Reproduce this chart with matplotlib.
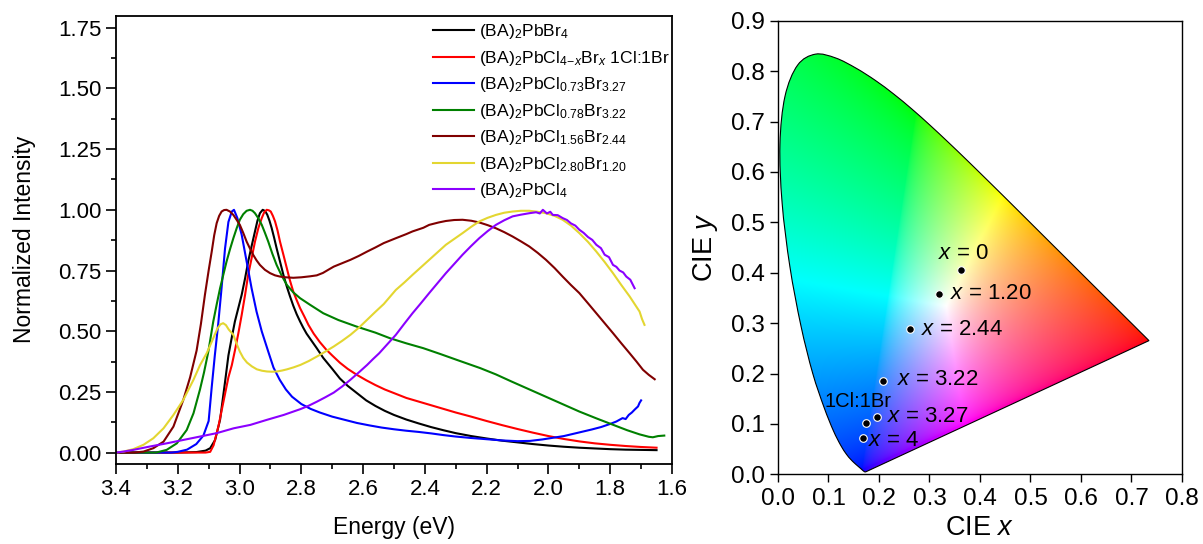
import numpy as np
import matplotlib
matplotlib.use("Agg")
import matplotlib.pyplot as plt
from matplotlib.path import Path
from matplotlib.patches import PathPatch
from matplotlib.ticker import MultipleLocator, FormatStrFormatter

plt.rcParams['font.family'] = ['Liberation Sans', 'DejaVu Sans']
plt.rcParams['mathtext.fontset'] = 'custom'
plt.rcParams['mathtext.rm'] = 'Liberation Sans'
plt.rcParams['mathtext.it'] = 'Liberation Sans:italic'
plt.rcParams['mathtext.bf'] = 'Liberation Sans:bold'

# ---------------- PL spectra (energy in eV, normalized intensity) ----------------
E_br4 = [3.40, 3.20, 3.14, 3.11, 3.095, 3.079, 3.063, 3.046, 3.036, 3.025, 3.015, 3.004,
         2.993, 2.982, 2.972, 2.961, 2.950, 2.942, 2.934, 2.925, 2.917, 2.910, 2.903, 2.896,
         2.888, 2.880, 2.869, 2.858, 2.847, 2.837, 2.826, 2.815, 2.804, 2.794, 2.783, 2.772,
         2.750, 2.729, 2.700, 2.675, 2.650, 2.620, 2.590, 2.560, 2.530, 2.500, 2.460, 2.420,
         2.380, 2.340, 2.300, 2.250, 2.200, 2.150, 2.100, 2.050, 2.000, 1.950, 1.900, 1.850,
         1.800, 1.750, 1.700, 1.650]
I_br4 = [0.0, 0.0, 0.002, 0.008, 0.018, 0.052, 0.135, 0.30, 0.40, 0.475, 0.54, 0.595,
         0.65, 0.718, 0.787, 0.85, 0.911, 0.955, 0.986, 1.0, 0.995, 0.979, 0.955, 0.925,
         0.885, 0.842, 0.787, 0.732, 0.684, 0.645, 0.605, 0.57, 0.54, 0.515, 0.49, 0.47,
         0.43, 0.39, 0.345, 0.305, 0.275, 0.245, 0.215, 0.192, 0.172, 0.155, 0.136, 0.12,
         0.105, 0.092, 0.08, 0.068, 0.058, 0.049, 0.042, 0.035, 0.029, 0.024, 0.02, 0.017,
         0.014, 0.012, 0.011, 0.01]

E_1to1 = [3.40, 3.20, 3.11, 3.095, 3.084, 3.068, 3.052, 3.036, 3.025, 3.015, 3.004, 2.993,
          2.982, 2.972, 2.961, 2.950, 2.939, 2.928, 2.920, 2.912, 2.905, 2.899, 2.892, 2.885,
          2.877, 2.869, 2.858, 2.847, 2.837, 2.826, 2.815, 2.804, 2.790, 2.777, 2.760, 2.740,
          2.720, 2.700, 2.675, 2.650, 2.620, 2.590, 2.560, 2.530, 2.500, 2.460, 2.420, 2.380,
          2.340, 2.300, 2.250, 2.200, 2.150, 2.100, 2.050, 2.000, 1.950, 1.900, 1.850, 1.800,
          1.750, 1.700, 1.650]
I_1to1 = [0.0, 0.0, 0.0, 0.003, 0.03, 0.11, 0.21, 0.31, 0.36, 0.42, 0.49, 0.567,
          0.65, 0.732, 0.80, 0.869, 0.925, 0.966, 0.99, 1.0, 0.998, 0.993, 0.975, 0.952,
          0.915, 0.869, 0.815, 0.76, 0.71, 0.663, 0.628, 0.595, 0.56, 0.526, 0.49, 0.455,
          0.425, 0.40, 0.37, 0.345, 0.32, 0.298, 0.278, 0.26, 0.245, 0.225, 0.21, 0.195,
          0.18, 0.165, 0.148, 0.13, 0.113, 0.097, 0.082, 0.068, 0.056, 0.046, 0.038, 0.032,
          0.027, 0.023, 0.02]

E_327 = [3.40, 3.22, 3.20, 3.17, 3.14, 3.117, 3.10, 3.09, 3.08, 3.069, 3.058, 3.047, 3.036,
         3.025, 3.018, 3.007, 2.993, 2.977, 2.961, 2.945, 2.928, 2.907, 2.89, 2.87, 2.85,
         2.83, 2.80, 2.77, 2.74, 2.70, 2.66, 2.62, 2.58, 2.54, 2.50, 2.46, 2.42, 2.38, 2.34,
         2.30, 2.25, 2.20, 2.15, 2.10, 2.06, 2.02, 1.98, 1.95, 1.92, 1.89, 1.86, 1.83, 1.80,
         1.78, 1.76, 1.75, 1.74, 1.73, 1.72, 1.71, 1.705, 1.70]
I_327 = [0.0, 0.0, 0.003, 0.012, 0.035, 0.07, 0.13, 0.27, 0.40, 0.53, 0.68, 0.84, 0.95,
         0.993, 1.0, 0.966, 0.897, 0.787, 0.677, 0.581, 0.499, 0.416, 0.35, 0.30, 0.26,
         0.23, 0.20, 0.18, 0.165, 0.148, 0.135, 0.122, 0.112, 0.103, 0.096, 0.09, 0.085,
         0.079, 0.072, 0.066, 0.06, 0.055, 0.05, 0.047, 0.048, 0.054, 0.062, 0.068, 0.077,
         0.086, 0.095, 0.105, 0.118, 0.128, 0.142, 0.138, 0.155, 0.165, 0.178, 0.19, 0.205,
         0.215]

E_322 = [3.40, 3.27, 3.236, 3.203, 3.171, 3.149, 3.128, 3.115, 3.101, 3.085, 3.074, 3.063,
         3.052, 3.042, 3.031, 3.020, 3.009, 2.999, 2.988, 2.977, 2.966, 2.958, 2.950, 2.939,
         2.928, 2.918, 2.907, 2.894, 2.880, 2.864, 2.847, 2.826, 2.804, 2.772, 2.729, 2.680,
         2.621, 2.560, 2.513, 2.460, 2.405, 2.350, 2.297, 2.221, 2.170, 2.120, 2.065, 2.010,
         1.955, 1.900, 1.845, 1.790, 1.745, 1.705, 1.675, 1.662, 1.645, 1.625]
I_322 = [0.0, 0.0, 0.011, 0.038, 0.093, 0.162, 0.26, 0.33, 0.416, 0.54, 0.61, 0.677,
         0.735, 0.787, 0.837, 0.883, 0.925, 0.959, 0.982, 0.996, 1.0, 0.996, 0.986, 0.965,
         0.938, 0.906, 0.869, 0.82, 0.773, 0.73, 0.691, 0.66, 0.636, 0.609, 0.574, 0.546,
         0.519, 0.494, 0.471, 0.45, 0.43, 0.406, 0.382, 0.348, 0.322, 0.293, 0.262, 0.231,
         0.20, 0.169, 0.141, 0.114, 0.092, 0.075, 0.065, 0.063, 0.068, 0.07]

E_244 = [3.40, 3.34, 3.311, 3.279, 3.246, 3.214, 3.182, 3.160, 3.139, 3.125, 3.112, 3.100,
         3.090, 3.082, 3.074, 3.066, 3.058, 3.050, 3.042, 3.031, 3.020, 3.010, 2.999, 2.988,
         2.977, 2.966, 2.956, 2.945, 2.934, 2.918, 2.901, 2.885, 2.869, 2.850, 2.826, 2.800,
         2.772, 2.750, 2.730, 2.710, 2.695, 2.668, 2.641, 2.614, 2.587, 2.560, 2.533, 2.494,
         2.460, 2.440, 2.405, 2.386, 2.355, 2.332, 2.305, 2.278, 2.250, 2.224, 2.197, 2.170,
         2.143, 2.116, 2.089, 2.062, 2.035, 2.008, 1.980, 1.954, 1.927, 1.900, 1.872, 1.845,
         1.818, 1.791, 1.764, 1.737, 1.715, 1.694, 1.675, 1.656]
I_244 = [0.0, 0.0, 0.004, 0.018, 0.045, 0.107, 0.217, 0.31, 0.42, 0.53, 0.65, 0.75,
         0.828, 0.895, 0.945, 0.975, 0.993, 0.999, 1.0, 0.993, 0.979, 0.96, 0.938, 0.905,
         0.869, 0.84, 0.815, 0.792, 0.773, 0.753, 0.739, 0.73, 0.725, 0.722, 0.72, 0.722,
         0.726, 0.73, 0.74, 0.755, 0.766, 0.78, 0.794, 0.81, 0.828, 0.845, 0.863, 0.883,
         0.90, 0.911, 0.926, 0.938, 0.948, 0.954, 0.958, 0.959, 0.955, 0.948, 0.937, 0.924,
         0.908, 0.89, 0.87, 0.849, 0.823, 0.794, 0.76, 0.725, 0.69, 0.657, 0.615, 0.574,
         0.533, 0.492, 0.45, 0.409, 0.375, 0.341, 0.32, 0.302]

E_120 = [3.40, 3.376, 3.344, 3.311, 3.279, 3.246, 3.214, 3.182, 3.149, 3.128, 3.106, 3.085,
         3.072, 3.062, 3.053, 3.044, 3.035, 3.020, 3.010, 2.999, 2.988, 2.976, 2.960, 2.944,
         2.927, 2.911, 2.895, 2.879, 2.862, 2.846, 2.825, 2.803, 2.776, 2.749, 2.722, 2.695,
         2.668, 2.641, 2.614, 2.587, 2.560, 2.533, 2.494, 2.467, 2.440, 2.413, 2.386, 2.359,
         2.332, 2.305, 2.278, 2.250, 2.224, 2.197, 2.170, 2.143, 2.116, 2.089, 2.062, 2.035,
         2.008, 1.980, 1.954, 1.927, 1.900, 1.872, 1.845, 1.818, 1.791, 1.764, 1.737, 1.720,
         1.705, 1.697, 1.689]
I_120 = [0.0, 0.004, 0.014, 0.032, 0.059, 0.10, 0.155, 0.217, 0.30, 0.36, 0.41, 0.471,
         0.51, 0.528, 0.533, 0.525, 0.507, 0.485, 0.45, 0.416, 0.39, 0.371, 0.355, 0.343,
         0.337, 0.334, 0.333, 0.334, 0.338, 0.343, 0.351, 0.361, 0.377, 0.396, 0.416, 0.437,
         0.46, 0.485, 0.514, 0.547, 0.58, 0.612, 0.67, 0.70, 0.732, 0.763, 0.794, 0.825,
         0.856, 0.88, 0.904, 0.93, 0.952, 0.967, 0.979, 0.988, 0.993, 0.996, 0.996, 0.992,
         0.986, 0.975, 0.959, 0.935, 0.904, 0.868, 0.828, 0.785, 0.739, 0.69, 0.643, 0.61,
         0.581, 0.55, 0.526]

E_cl4 = [3.40, 3.376, 3.344, 3.290, 3.236, 3.182, 3.128, 3.074, 3.019, 2.965, 2.911, 2.857,
         2.803, 2.776, 2.749, 2.722, 2.695, 2.668, 2.641, 2.614, 2.587, 2.568, 2.548, 2.521,
         2.494, 2.467, 2.440, 2.413, 2.386, 2.359, 2.332, 2.305, 2.278, 2.251, 2.224, 2.197,
         2.170, 2.143, 2.116, 2.089, 2.062, 2.040, 2.028, 2.018, 2.005, 1.994, 1.986, 1.970,
         1.954, 1.940, 1.927, 1.913, 1.900, 1.886, 1.872, 1.858, 1.845, 1.830, 1.818, 1.804,
         1.791, 1.780, 1.770, 1.758, 1.748, 1.735, 1.721]
I_cl4 = [0.0, 0.004, 0.011, 0.025, 0.038, 0.052, 0.066, 0.08, 0.10, 0.114, 0.135, 0.155,
         0.179, 0.193, 0.21, 0.228, 0.247, 0.272, 0.30, 0.33, 0.361, 0.385, 0.409, 0.447,
         0.485, 0.53, 0.574, 0.615, 0.657, 0.698, 0.739, 0.777, 0.815, 0.85, 0.883, 0.912,
         0.938, 0.957, 0.973, 0.98, 0.986, 0.99, 0.985, 1.0, 0.985, 0.992, 0.979, 0.978,
         0.966, 0.958, 0.944, 0.935, 0.918, 0.905, 0.888, 0.876, 0.856, 0.842, 0.815, 0.805,
         0.773, 0.765, 0.75, 0.742, 0.725, 0.712, 0.677]

series = [
    (E_br4, I_br4, '#000000', r'(BA)$_2$PbBr$_4$'),
    (E_1to1, I_1to1, '#FF0000', r'(BA)$_2$PbCl$_{4\!-\!x}$Br$_x$ 1Cl:1Br'),
    (E_327, I_327, '#0000FF', r'(BA)$_2$PbCl$_{0.73}$Br$_{3.27}$'),
    (E_322, I_322, '#008000', r'(BA)$_2$PbCl$_{0.78}$Br$_{3.22}$'),
    (E_244, I_244, '#800000', r'(BA)$_2$PbCl$_{1.56}$Br$_{2.44}$'),
    (E_120, I_120, '#E3D631', r'(BA)$_2$PbCl$_{2.80}$Br$_{1.20}$'),
    (E_cl4, I_cl4, '#8B00FF', r'(BA)$_2$PbCl$_4$'),
]

# ---------------- CIE 1931 spectral locus (380-700 nm, 5 nm) ----------------
locus_x = [0.1741, 0.1740, 0.1738, 0.1736, 0.1733, 0.1730, 0.1726, 0.1721, 0.1714, 0.1703,
           0.1689, 0.1669, 0.1644, 0.1611, 0.1566, 0.1510, 0.1440, 0.1355, 0.1241, 0.1096,
           0.0913, 0.0687, 0.0454, 0.0235, 0.0082, 0.0039, 0.0139, 0.0389, 0.0743, 0.1142,
           0.1547, 0.1929, 0.2296, 0.2658, 0.3016, 0.3373, 0.3731, 0.4087, 0.4441, 0.4788,
           0.5125, 0.5448, 0.5752, 0.6029, 0.6270, 0.6482, 0.6658, 0.6801, 0.6915, 0.7006,
           0.7079, 0.7140, 0.7190, 0.7230, 0.7260, 0.7283, 0.7300, 0.7311, 0.7320, 0.7327,
           0.7334, 0.7340, 0.7344, 0.7346, 0.7347]
locus_y = [0.0050, 0.0050, 0.0049, 0.0049, 0.0048, 0.0048, 0.0048, 0.0048, 0.0051, 0.0058,
           0.0069, 0.0086, 0.0109, 0.0138, 0.0177, 0.0227, 0.0297, 0.0399, 0.0578, 0.0868,
           0.1327, 0.2007, 0.2950, 0.4127, 0.5384, 0.6548, 0.7502, 0.8120, 0.8338, 0.8262,
           0.8059, 0.7816, 0.7543, 0.7243, 0.6923, 0.6589, 0.6245, 0.5896, 0.5547, 0.5202,
           0.4866, 0.4544, 0.4242, 0.3965, 0.3725, 0.3514, 0.3340, 0.3197, 0.3083, 0.2993,
           0.2920, 0.2859, 0.2809, 0.2770, 0.2740, 0.2717, 0.2700, 0.2689, 0.2680, 0.2673,
           0.2666, 0.2660, 0.2656, 0.2654, 0.2653]

# Chromaticity coordinates of the samples and their labels
cie_x = [0.362, 0.319, 0.262, 0.208, 0.197, 0.175, 0.168]
cie_y = [0.405, 0.358, 0.288, 0.186, 0.114, 0.1026, 0.0716]
cie_labels = [r'$x$ = 0', r'$x$ = 1.20', r'$x$ = 2.44', r'$x$ = 3.22', r'$x$ = 3.27',
              '1Cl:1Br', r'$x$ = 4']
label_xy = [(0.367, 0.438), (0.341, 0.358), (0.284, 0.288), (0.236, 0.188), (0.2166, 0.114),
            (0.0925, 0.144), (0.178, 0.068)]
label_ha = ['center', 'left', 'left', 'left', 'left', 'left', 'left']
label_size = [16, 16, 16, 16, 16, 14.5, 16]


def smooth_locus_path(xs, ys):
    """Closed outline: spectral locus as a Catmull-Rom Bezier, then the purple line."""
    P = np.column_stack([xs, ys])
    n = len(P)
    verts = [P[0]]
    codes = [Path.MOVETO]
    for i in range(n - 1):
        p0 = P[max(i - 1, 0)]
        p1 = P[i]
        p2 = P[i + 1]
        p3 = P[min(i + 2, n - 1)]
        c1 = p1 + (p2 - p0) / 6.0
        c2 = p2 - (p3 - p1) / 6.0
        verts += [c1, c2, p2]
        codes += [Path.CURVE4] * 3
    verts += [P[0], P[0]]
    codes += [Path.LINETO, Path.CLOSEPOLY]
    return Path(np.array(verts), codes)


fig = plt.figure(figsize=(12.03, 5.44), dpi=100)
ax1 = fig.add_axes([0.0964, 0.1471, 0.4622, 0.8242])
ax2 = fig.add_axes([0.6467, 0.1281, 0.3358, 0.8337])

# ---- left: spectra ----
for E, I, col, lab in series:
    ax1.plot(E, I, color=col, lw=1.5, label=lab)

ax1.set_xlim(3.4, 1.6)
ax1.set_ylim(-0.047, 1.80)
ax1.xaxis.set_major_locator(MultipleLocator(0.2))
ax1.xaxis.set_minor_locator(MultipleLocator(0.1))
ax1.yaxis.set_major_locator(MultipleLocator(0.25))
ax1.yaxis.set_minor_locator(MultipleLocator(0.125))
ax1.xaxis.set_major_formatter(FormatStrFormatter('%.1f'))
ax1.yaxis.set_major_formatter(FormatStrFormatter('%.2f'))
ax1.tick_params(which='both', direction='out', width=1.2, labelsize=16)
ax1.tick_params(which='major', length=7)
ax1.tick_params(which='minor', length=3.5)
for s in ax1.spines.values():
    s.set_linewidth(1.3)
ax1.set_xlabel('Energy (eV)', fontsize=16.5, labelpad=12)
ax1.set_ylabel('Normalized Intensity', fontsize=16.5, labelpad=16)

ax1.legend(loc='upper left', bbox_to_anchor=(0.570, 0.985), frameon=False, fontsize=12.6,
           handlelength=2.34, handletextpad=0.29, labelspacing=0.43, borderpad=0,
           borderaxespad=0)

# ---- right: chromaticity diagram ----
nx, ny = 800, 900
gx = np.linspace(0.0005, 0.8, nx)
gy = np.linspace(0.0005, 0.9, ny)
xx, yy = np.meshgrid(gx, gy)
X = xx / yy
Y = np.ones_like(xx)
Z = (1 - xx - yy) / yy
# XYZ -> CIE RGB (equal-energy white)
R = 2.3646 * X - 0.8965 * Y - 0.4681 * Z
G = -0.5152 * X + 1.4264 * Y + 0.0888 * Z
B = 0.0052 * X - 0.0144 * Y + 1.0092 * Z
rgb = np.clip(np.dstack([R, G, B]), 0, None)
rgb = rgb / rgb.max(axis=2, keepdims=True)
rgb = np.clip(rgb, 0, 1) ** (1 / 1.8)

im = ax2.imshow(rgb, extent=[0, 0.8, 0, 0.9], origin='lower', interpolation='bilinear',
                aspect='auto', zorder=1)
locus = PathPatch(smooth_locus_path(locus_x, locus_y), facecolor='none',
                  edgecolor='black', lw=0.8, zorder=2)
ax2.add_patch(locus)
im.set_clip_path(locus)

ax2.scatter(cie_x, cie_y, s=30, c='black', edgecolors='white', linewidths=0.8, zorder=3)
for (tx, ty), lab, ha, fs in zip(label_xy, cie_labels, label_ha, label_size):
    ax2.text(tx, ty, lab, ha=ha, va='center', fontsize=fs, zorder=4)

ax2.set_xlim(0, 0.8)
ax2.set_ylim(0, 0.9)
ax2.xaxis.set_major_locator(MultipleLocator(0.1))
ax2.yaxis.set_major_locator(MultipleLocator(0.1))
ax2.xaxis.set_major_formatter(FormatStrFormatter('%.1f'))
ax2.yaxis.set_major_formatter(FormatStrFormatter('%.1f'))
ax2.tick_params(direction='out', length=6, width=1.0, labelsize=17.5)
for s in ax2.spines.values():
    s.set_linewidth(1.0)
ax2.set_xlabel('CIE $x$', fontsize=19.5, labelpad=4)
ax2.set_ylabel('CIE $y$', fontsize=19.5, labelpad=8)

fig.savefig('out.png', dpi=100)
